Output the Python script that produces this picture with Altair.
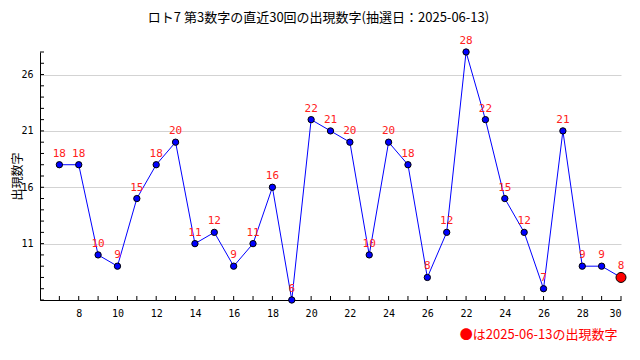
import altair as alt
import pandas as pd

# ---- data ----
positions = list(range(1, 31))
x_labels = [str(v) for v in list(range(7, 27)) + list(range(21, 31))]
values = [18, 18, 10, 9, 15, 18, 20, 11, 12, 9,
          11, 16, 6, 22, 21, 20, 10, 20, 18, 8,
          12, 28, 22, 15, 12, 7, 21, 9, 9, 8]
y_tick_values = list(range(6, 29))
y_label_values = [11, 16, 21, 26]
x_label_positions = list(range(2, 31, 2))

title_text = "ロト7 第3数字の直近30回の出現数字(抽選日：2025-06-13)"
legend_text = "●は2025-06-13の出現数字"
y_title = "出現数字"

df = pd.DataFrame({
    "pos": positions,
    "value": values,
    "latest": [i == len(values) - 1 for i in range(len(values))],
})
df_yt = pd.DataFrame({"value": y_tick_values})
df_xt = pd.DataFrame({"pos": positions})

W, H = 581, 248
JP = "Noto Sans CJK JP"
MONO = "DejaVu Sans Mono"

label_arr = "[" + ",".join("'" + s + "'" for s in x_labels) + "]"

xscale = alt.Scale(domain=[0, 30], nice=False, zero=False)
yscale = alt.Scale(domain=[6, 28], nice=False, zero=False)

x_axis = alt.Axis(
    values=x_label_positions,
    labelExpr=label_arr + "[datum.value - 1]",
    ticks=False, grid=False, domainColor="black",
    labelFont=MONO, labelFontSize=10, labelColor="black", labelPadding=8,
    title=legend_text, titleColor="#ff0000", titleFont=JP, titleFontSize=13,
    titleFontWeight="normal", titleAlign="right", titleX=W - 4, titleY=34,
    titleBaseline="middle",
)
y_axis = alt.Axis(
    values=y_label_values, ticks=False, grid=True, gridColor="#d3d3d3",
    domainColor="black", labelFont=MONO, labelFontSize=10, labelColor="black",
    labelPadding=7,
    title=y_title, titleFont=JP, titleFontSize=12, titleFontWeight="normal",
    titleColor="black", titleAngle=-90, titleX=-16, titleY=H / 2,
    titleAlign="center", titleBaseline="bottom",
)

X = alt.X("pos:Q", scale=xscale)
Y = alt.Y("value:Q", scale=yscale)

base = alt.Chart(df)

line = base.mark_line(color="#0000ff", strokeWidth=1).encode(
    x=alt.X("pos:Q", scale=xscale, axis=x_axis),
    y=alt.Y("value:Q", scale=yscale, axis=y_axis),
)

labels = base.mark_text(
    dy=-11, color="#ff2020", font=MONO, fontSize=11, baseline="middle"
).encode(x=X, y=Y, text="value:Q")

points = base.mark_circle(stroke="black", strokeWidth=1, opacity=1).encode(
    x=X, y=Y,
    color=alt.condition("datum.latest", alt.value("#ff0000"), alt.value("#0000ff")),
    size=alt.condition("datum.latest", alt.value(100), alt.value(40)),
)

ytick = alt.Chart(df_yt).mark_rule(color="black", strokeWidth=1).encode(
    y=Y, x=alt.value(0), x2=alt.value(4),
)
xtick = alt.Chart(df_xt).mark_rule(color="black", strokeWidth=1).encode(
    x=X, y=alt.value(H), y2=alt.value(H - 4),
)

chart = alt.layer(line, ytick, xtick, labels, points).properties(
    width=W, height=H,
    autosize=alt.AutoSizeParams(type="none"),
    padding={"left": 32, "top": 44, "right": 11, "bottom": 52},
    title=alt.TitleParams(
        text=title_text, font=JP, fontSize=13, fontWeight="normal",
        color="black", anchor="middle", frame="group", dx=-12, offset=10,
    ),
    background="white",
).configure_view(stroke=None)

chart.save("out.html", embed_options={"renderer": "svg", "actions": False})
